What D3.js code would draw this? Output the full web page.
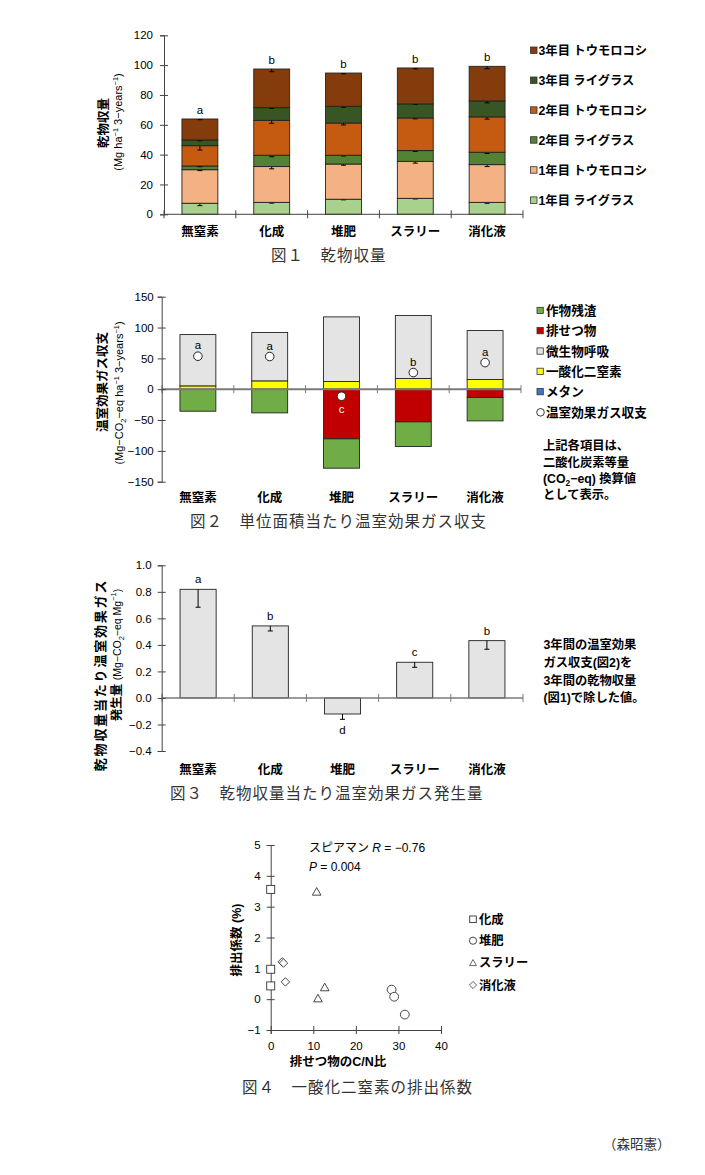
<!DOCTYPE html>
<html><head><meta charset="utf-8">
<script src="https://cdn.jsdelivr.net/npm/d3@7"></script>
<style>
body{margin:0;background:#fff;}
svg{display:block;}
text{font-family:"Liberation Sans","Noto Sans CJK JP",sans-serif;fill:#000;}
.cap{font-family:"Noto Sans CJK JP",serif;fill:#333;}
</style></head><body>
<svg id="c" width="705" height="1175"></svg>
<script>
// ---------- DATA ----------
const categories = ["無窒素","化成","堆肥","スラリー","消化液"];

// Fig.1 dry matter yield (stack order bottom -> top)
const yieldSeries = ["1年目 ライグラス","1年目 トウモロコシ","2年目 ライグラス","2年目 トウモロコシ","3年目 ライグラス","3年目 トウモロコシ"];
const ryegrass1 = [7.4, 8.0, 10.1, 10.7, 8.0];
const corn1     = [22.5, 24.0, 23.6, 24.8, 25.3];
const ryegrass2 = [2.5, 7.6, 5.9, 7.2, 8.3];
const corn2     = [13.6, 23.4, 21.6, 21.9, 23.7];
const ryegrass3 = [3.8, 8.5, 11.2, 9.4, 10.7];
const corn3     = [14.1, 25.9, 22.3, 24.1, 23.2];
const errRyegrass1 = [1.6, 0.5, 0.4, 0.4, 0.6];
const errCorn1     = [0.6, 1.5, 0.8, 1.2, 1.3];
const errRyegrass2 = [0.5, 1.0, 0.5, 0.5, 0.8];
const errCorn2     = [2.9, 2.0, 1.3, 0.6, 1.5];
const errRyegrass3 = [0.5, 0.5, 0.6, 0.3, 1.3];
const errCorn3     = [0.5, 1.8, 0.5, 0.6, 1.6];
const yieldLetters = ["a","b","b","b","b"];
const yieldTicks = [0,20,40,60,80,100,120];

// Fig.2 GHG balance per area
const ghgSeries = ["作物残渣","排せつ物","微生物呼吸","一酸化二窒素","メタン","温室効果ガス収支"];
const residue     = [-35.7, -38.4, -47.6, -40.0, -37.9];
const excreta     = [0, 0, -80.5, -53.0, -13.5];
const respiration = [83.2, 78.4, 104.9, 102.2, 79.4];
const nitrousOxide= [5.4, 13.5, 12.4, 17.3, 15.7];
const methane     = [0, 0, 0, 0, 0];
const ghgBalance  = [53.5, 53.0, -11.4, 27.0, 43.2];
const ghgLetters  = ["a","a","c","b","a"];
const ghgTicks = [-150,-100,-50,0,50,100,150];

// Fig.3 GHG per yield
const intensity    = [0.819, 0.543, -0.121, 0.269, 0.432];
const intensityErr = [0.135, 0.038, 0.040, 0.038, 0.065];
const intensityLetters = ["a","b","d","c","b"];
const intensityTicks = [-0.4,-0.2,0,0.2,0.4,0.6,0.8,1.0];

// Fig.4 N2O emission factor vs C/N
const ef4Groups = ["化成","堆肥","スラリー","消化液"];
const cnFertilizer = [0, 0, 0];        const efFertilizer = [3.56, 0.97, 0.43];
const cnManure     = [28.4, 29.0, 31.5]; const efManure     = [0.31, 0.08, -0.50];
const cnSlurry     = [10.8, 12.7, 11.1]; const efSlurry     = [3.47, 0.37, 0.01];
const cnDigestate  = [2.7, 3.0, 3.45];  const efDigestate  = [1.21, 1.17, 0.56];
const f4xTicks = [0,10,20,30,40];
const f4yTicks = [-1,0,1,2,3,4,5];

// ---------- HELPERS ----------
const svg = d3.select("#c");
function rich(sel, parts, fs){
  let shift = 0;
  parts.forEach(([t,type,size])=>{
    const target = type==='sup' ? -0.4*fs : type==='sub' ? 0.25*fs : 0;
    const f = size || (type==='n' ? fs : fs*0.68);
    sel.append('tspan').attr('dy', target-shift).attr('font-size', f).text(t);
    shift = target;
  });
}
function vlabel(cx, cy, fs, parts, weight, ls){
  const t = svg.append('text')
    .attr('transform', `translate(${cx+0.36*fs},${cy}) rotate(-90)`)
    .attr('text-anchor','middle').attr('font-size',fs).attr('font-weight',weight||'normal');
  if (ls) t.attr('letter-spacing', ls);
  rich(t, parts, fs);
  return t;
}
function crossTicksY(g){ g.selectAll('.tick line').attr('x1',4).attr('stroke','#444'); g.select('.domain').attr('stroke','#444'); }
function catAxis(x, yPos, color, width){
  const step = x.step(), r = x.range();
  svg.append('line').attr('x1',r[0]).attr('x2',r[1]).attr('y1',yPos).attr('y2',yPos)
    .attr('stroke',color).attr('stroke-width',width);
  for(let k=0;k<=categories.length;k++){
    const xx = r[0]+k*step;
    svg.append('line').attr('x1',xx).attr('x2',xx).attr('y1',yPos-4).attr('y2',yPos+4)
      .attr('stroke',color).attr('stroke-width',1);
  }
}
function catLabels(x, yBase){
  svg.append('g').selectAll('text').data(categories).join('text')
    .attr('x',d=>x(d)+x.bandwidth()/2).attr('y',yBase).attr('text-anchor','middle')
    .attr('font-size',12.5).attr('font-weight','bold').text(d=>d);
}
function caption(x, y, s){
  svg.append('text').attr('class','cap').attr('x',x).attr('y',y).attr('font-size',15.5)
    .attr('letter-spacing',1).text(s);
}

// ---------- FIG 1 ----------
{
  const x = d3.scaleBand().domain(categories).range([164,523]).paddingInner(0.5).paddingOuter(0.25);
  const y = d3.scaleLinear().domain([0,120]).range([214.3,35.3]);
  const vals = [ryegrass1, corn1, ryegrass2, corn2, ryegrass3, corn3];
  const errs = [errRyegrass1, errCorn1, errRyegrass2, errCorn2, errRyegrass3, errCorn3];
  const colors = ["#a9d18e","#f4b183","#548235","#c55a11","#375623","#843c0c"];
  const base = categories.map(()=>0);
  const g = svg.append('g');
  vals.forEach((arr,si)=>{
    categories.forEach((c,ci)=>{
      const y0 = base[ci], y1 = y0+arr[ci];
      g.append('rect').attr('x',x(c)).attr('width',x.bandwidth())
        .attr('y',y(y1)).attr('height',y(y0)-y(y1))
        .attr('fill',colors[si]).attr('stroke','#222').attr('stroke-width',0.9);
      const cx = x(c)+x.bandwidth()/2;
      g.append('line').attr('x1',cx).attr('x2',cx).attr('y1',y(y1)).attr('y2',y(y1-errs[si][ci])).attr('stroke','#000');
      g.append('line').attr('x1',cx-2.5).attr('x2',cx+2.5).attr('y1',y(y1-errs[si][ci])).attr('y2',y(y1-errs[si][ci])).attr('stroke','#000');
      base[ci] = y1;
    });
  });
  categories.forEach((c,ci)=>{
    svg.append('text').attr('x',x(c)+x.bandwidth()/2).attr('y',y(base[ci])-5)
      .attr('text-anchor','middle').attr('font-size',11.5).text(yieldLetters[ci]);
  });
  const ay = svg.append('g').attr('transform','translate(164,0)')
    .call(d3.axisLeft(y).tickValues(yieldTicks).tickSize(4).tickPadding(7));
  ay.selectAll('text').attr('font-size',11.5).attr('font-family','Liberation Sans');
  crossTicksY(ay);
  catAxis(x, y(0), '#444', 1);
  catLabels(x, 236);
  vlabel(103, 123, 12.5, [["乾物収量",'n']], 'bold');
  vlabel(118, 122, 11, [["(Mg ha",'n'],["−1",'sup'],[" 3−years",'n'],["−1",'sup'],[")",'n']]);
  // legend
  const rows = [50.5,80.5,110.3,140.2,170.2,200.4];
  yieldSeries.slice().reverse().forEach((s,i)=>{
    const col = colors[colors.length-1-i];
    svg.append('rect').attr('x',530.5).attr('y',rows[i]-3.5).attr('width',6.5).attr('height',6.5)
      .attr('fill',col).attr('stroke','#333').attr('stroke-width',0.8);
    svg.append('text').attr('x',538.5).attr('y',rows[i]+4.5).attr('font-size',12.3)
      .attr('font-weight','bold').text(s);
  });
  caption(271, 261, "図１　乾物収量");
}

// ---------- FIG 2 ----------
{
  const x = d3.scaleBand().domain(categories).range([162,521]).paddingInner(0.5).paddingOuter(0.25);
  const y = d3.scaleLinear().domain([-150,150]).range([481.7,296.7]);
  const colors = {residue:"#70ad47", excreta:"#c00000", resp:"#e4e4e4", n2o:"#ffff00", ch4:"#4472c4"};
  const g = svg.append('g');
  function seg(c, a, b, col){
    if (a===b) return;
    const lo = Math.min(a,b), hi = Math.max(a,b);
    g.append('rect').attr('x',x(c)).attr('width',x.bandwidth()).attr('y',y(hi)).attr('height',y(lo)-y(hi))
      .attr('fill',col).attr('stroke','#222').attr('stroke-width',0.9);
  }
  categories.forEach((c,i)=>{
    let p = 0;
    seg(c, p, p+methane[i], colors.ch4); p += methane[i];
    seg(c, p, p+nitrousOxide[i], colors.n2o); p += nitrousOxide[i];
    seg(c, p, p+respiration[i], colors.resp);
    let n = 0;
    seg(c, n, n+excreta[i], colors.excreta); n += excreta[i];
    seg(c, n, n+residue[i], colors.residue);
  });
  catAxis(x, y(0), '#7a7a7a', 2);
  categories.forEach((c,i)=>{
    const cx = x(c)+x.bandwidth()/2;
    svg.append('circle').attr('cx',cx).attr('cy',y(ghgBalance[i])).attr('r',4.3)
      .attr('fill','#fff').attr('stroke','#222').attr('stroke-width',1);
    const neg = ghgBalance[i] < 0;
    svg.append('text').attr('x',cx).attr('y', neg ? y(ghgBalance[i])+17 : y(ghgBalance[i])-7)
      .attr('text-anchor','middle').attr('font-size',11.5)
      .style('fill', neg ? '#fff' : '#000').text(ghgLetters[i]);
  });
  const ay = svg.append('g').attr('transform','translate(161.7,0)')
    .call(d3.axisLeft(y).tickValues(ghgTicks).tickSize(4).tickPadding(4).tickFormat(d=>d<0?"−"+Math.abs(d):d));
  ay.selectAll('text').attr('font-size',11.5).attr('font-family','Liberation Sans');
  crossTicksY(ay);
  catLabels(x, 502);
  vlabel(102, 382, 12.5, [["温室効果ガス収支",'n']], 'bold');
  vlabel(119, 393, 11, [["(Mg−CO",'n'],["2",'sub'],["−eq ha",'n'],["−1",'sup'],[" 3−years",'n'],["−1",'sup'],[")",'n']]);
  // legend
  const rows = [310.6,330.8,351.2,371.5,391.8,412.3];
  const lcols = [colors.residue, colors.excreta, colors.resp, colors.n2o, colors.ch4];
  ghgSeries.forEach((s,i)=>{
    if (i<5) {
      svg.append('rect').attr('x',537).attr('y',rows[i]-3.3).attr('width',6.3).attr('height',6.3)
        .attr('fill',lcols[i]).attr('stroke','#333').attr('stroke-width',0.8);
    } else {
      svg.append('circle').attr('cx',540.5).attr('cy',rows[i]).attr('r',3.8)
        .attr('fill','#fff').attr('stroke','#222').attr('stroke-width',0.9);
    }
    svg.append('text').attr('x',546).attr('y',rows[i]+4.6).attr('font-size',12.6)
      .attr('font-weight','bold').text(s);
  });
  const nrows = [445,462,478.5,494];
  svg.append('text').attr('x',543).attr('y',nrows[0]+4.5).attr('font-size',12.3).attr('font-weight','bold').text("上記各項目は、");
  svg.append('text').attr('x',543).attr('y',nrows[1]+4.5).attr('font-size',12.3).attr('font-weight','bold').text("二酸化炭素等量");
  const n3 = svg.append('text').attr('x',543).attr('y',nrows[2]+4.5).attr('font-size',12.3).attr('font-weight','bold');
  rich(n3, [["(CO",'n'],["2",'sub'],["−eq) 換算値",'n']], 12.3);
  svg.append('text').attr('x',543).attr('y',nrows[3]+4.5).attr('font-size',12.3).attr('font-weight','bold').text("として表示。");
  caption(190, 527, "図２　単位面積当たり温室効果ガス収支");
}

// ---------- FIG 3 ----------
{
  const x = d3.scaleBand().domain(categories).range([162,523]).paddingInner(0.5).paddingOuter(0.25);
  const y = d3.scaleLinear().domain([-0.4,1.0]).range([751,565.3]);
  categories.forEach((c,i)=>{
    const v = intensity[i];
    svg.append('rect').attr('x',x(c)).attr('width',x.bandwidth())
      .attr('y',y(Math.max(0,v))).attr('height',Math.abs(y(v)-y(0)))
      .attr('fill','#e4e4e4').attr('stroke','#222').attr('stroke-width',0.9);
    const cx = x(c)+x.bandwidth()/2, e = v-intensityErr[i];
    svg.append('line').attr('x1',cx).attr('x2',cx).attr('y1',y(v)).attr('y2',y(e)).attr('stroke','#000');
    svg.append('line').attr('x1',cx-2.5).attr('x2',cx+2.5).attr('y1',y(e)).attr('y2',y(e)).attr('stroke','#000');
    svg.append('text').attr('x',cx).attr('y', v<0 ? y(e)+15 : y(v)-6)
      .attr('text-anchor','middle').attr('font-size',11.5).text(intensityLetters[i]);
  });
  catAxis(x, y(0), '#7a7a7a', 1.6);
  const ay = svg.append('g').attr('transform','translate(161.7,0)')
    .call(d3.axisLeft(y).tickValues(intensityTicks).tickSize(4).tickPadding(6)
      .tickFormat(d=>(d<0?"−":"")+Math.abs(d).toFixed(1)));
  ay.selectAll('text').attr('font-size',11.5).attr('font-family','Liberation Sans');
  crossTicksY(ay);
  catLabels(x, 774);
  vlabel(100, 675, 13, [["乾物収量当たり温室効果ガス",'n']], 'bold', 1.8);
  const t = vlabel(116.5, 655, 12.5, [["発生量 ",'n']], 'bold');
  rich(t, [["(Mg−CO",'n',10.5],["2",'sub',7.5],["−eq Mg",'n',10.5],["−1",'sup',7.5],[")",'n',10.5]], 12.5);
  t.selectAll('tspan').filter((d,i)=>i>0).attr('font-weight','normal');
  const notes = ["3年間の温室効果","ガス収支(図2)を","3年間の乾物収量","(図1)で除した値。"];
  const nrows = [644,662,680,697.5];
  notes.forEach((s,i)=>svg.append('text').attr('x',543.5).attr('y',nrows[i]+4.5)
    .attr('font-size',12.3).attr('font-weight','bold').text(s));
  caption(170, 799, "図３　乾物収量当たり温室効果ガス発生量");
}

// ---------- FIG 4 ----------
{
  const x = d3.scaleLinear().domain([0,40]).range([270.7,441]);
  const y = d3.scaleLinear().domain([-1,5]).range([1030,845]);
  const ax = svg.append('g').attr('transform',`translate(0,${y(-1)})`)
    .call(d3.axisBottom(x).tickValues(f4xTicks).tickSize(4).tickPadding(8));
  ax.selectAll('.tick line').attr('y1',-4).attr('stroke','#444');
  ax.select('.domain').attr('stroke','#444');
  ax.selectAll('text').attr('font-size',11.5).attr('font-family','Liberation Sans');
  const ay = svg.append('g').attr('transform',`translate(${x(0)},0)`)
    .call(d3.axisLeft(y).tickValues(f4yTicks).tickSize(4).tickPadding(6).tickFormat(d3.format("d")));
  ay.selectAll('text').attr('font-size',11.5).attr('font-family','Liberation Sans');
  crossTicksY(ay);
  const st = {fill:'#fff', stroke:'#333', 'stroke-width':0.9};
  function apply(s){ Object.entries(st).forEach(([k,v])=>s.attr(k,v)); return s; }
  const sq = (sel,cx,cy,h)=>apply(sel.append('rect').attr('x',cx-h).attr('y',cy-h).attr('width',2*h).attr('height',2*h));
  const ci = (sel,cx,cy,r)=>apply(sel.append('circle').attr('cx',cx).attr('cy',cy).attr('r',r));
  const tri = (sel,cx,cy,s)=>apply(sel.append('path').attr('transform',`translate(${cx},${cy}) scale(${s})`).attr('d','M0,-4.6L4.3,3L-4.3,3Z'));
  const dia = (sel,cx,cy,s)=>apply(sel.append('path').attr('transform',`translate(${cx},${cy}) scale(${s})`).attr('d','M0,-4.2L4.2,0L0,4.2L-4.2,0Z'));
  cnFertilizer.forEach((c,i)=>sq(svg, x(c), y(efFertilizer[i]), 4));
  cnManure.forEach((c,i)=>ci(svg, x(c), y(efManure[i]), 4.4));
  cnSlurry.forEach((c,i)=>tri(svg, x(c), y(efSlurry[i]), 1));
  cnDigestate.forEach((c,i)=>dia(svg, x(c), y(efDigestate[i]), 1));
  // annotation
  const a1 = svg.append('text').attr('x',309).attr('y',852).attr('font-size',12);
  a1.append('tspan').text("スピアマン ");
  a1.append('tspan').attr('font-style','italic').text("R");
  a1.append('tspan').text(" = −0.76");
  const a2 = svg.append('text').attr('x',309).attr('y',871).attr('font-size',12);
  a2.append('tspan').attr('font-style','italic').text("P");
  a2.append('tspan').text(" = 0.004");
  vlabel(236.5, 940, 12.5, [["排出係数 (%)",'n']], 'bold');
  svg.append('text').attr('x',338).attr('y',1066).attr('text-anchor','middle')
    .attr('font-size',12.5).attr('font-weight','bold').text("排せつ物のC/N比");
  // legend
  const rows = [919.3,940.7,962.7,985];
  const lx = 473;
  sq(svg, lx, rows[0], 3.3);
  ci(svg, lx, rows[1], 3.6);
  tri(svg, lx, rows[2]+0.5, 0.8);
  dia(svg, lx, rows[3], 0.85);
  ef4Groups.forEach((s,i)=>{
    svg.append('text').attr('x',479).attr('y',rows[i]+4.5).attr('font-size',12.3).attr('font-weight','bold').text(s);
  });
  caption(242, 1093, "図４　一酸化二窒素の排出係数");
}
svg.append('text').attr('class','cap').attr('x',603).attr('y',1149).attr('font-size',13.5).text("（森昭憲）");
</script></body></html>
